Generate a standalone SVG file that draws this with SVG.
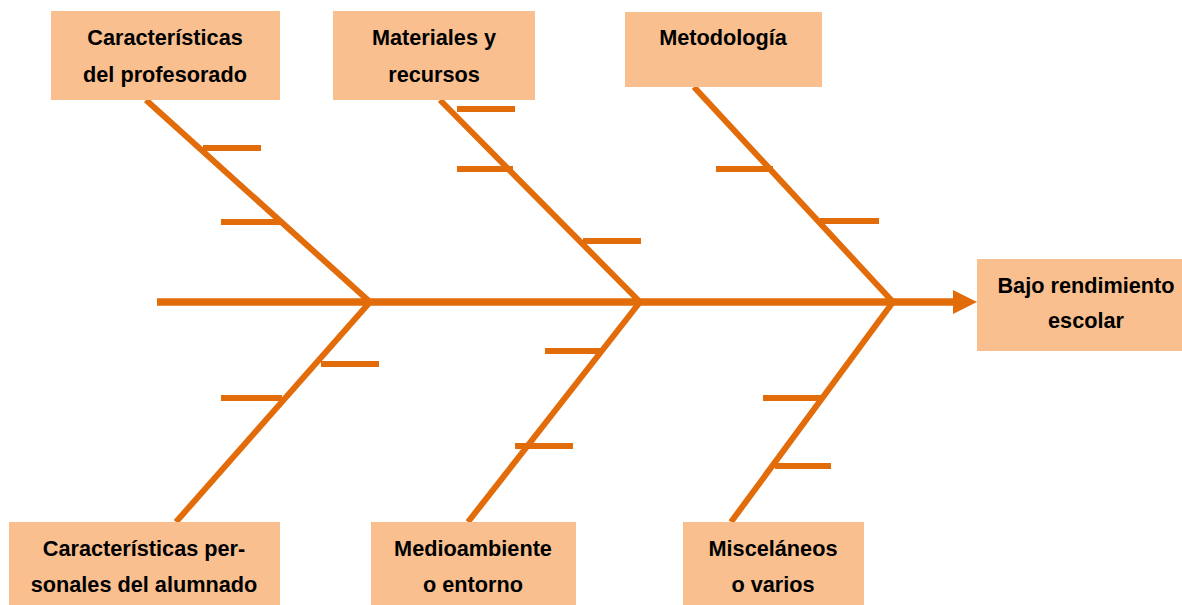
<svg xmlns="http://www.w3.org/2000/svg" width="1182" height="605" viewBox="0 0 1182 605">
<style>
.box{fill:#F9BF8F}
.t{font-family:"Liberation Sans",Arial,sans-serif;font-weight:bold;font-size:21.7px;fill:#000;text-anchor:middle}
.ln{stroke:#E36C0A;stroke-width:6;fill:none;stroke-linecap:butt}
.sp{stroke:#E36C0A;stroke-width:7.5;fill:none}
</style>
<rect width="1182" height="605" fill="#fff"/>
<g id="connectors">
<line class="sp" x1="157" y1="302" x2="956" y2="302"/>
<polygon points="953,290 977,302 953,314" fill="#E36C0A"/>
<line class="ln" x1="146" y1="100" x2="370" y2="302"/>
<line class="ln" x1="203" y1="148" x2="261" y2="148"/>
<line class="ln" x1="221" y1="222" x2="281" y2="222"/>
<line class="ln" x1="440" y1="100" x2="640" y2="302"/>
<line class="ln" x1="457" y1="109" x2="515" y2="109"/>
<line class="ln" x1="457" y1="169" x2="513" y2="169"/>
<line class="ln" x1="583" y1="241" x2="641" y2="241"/>
<line class="ln" x1="694" y1="87" x2="893" y2="302"/>
<line class="ln" x1="716" y1="169" x2="773" y2="169"/>
<line class="ln" x1="820" y1="221" x2="879" y2="221"/>
<line class="ln" x1="370" y1="302" x2="176" y2="522"/>
<line class="ln" x1="321" y1="364" x2="379" y2="364"/>
<line class="ln" x1="221" y1="398" x2="282" y2="398"/>
<line class="ln" x1="640" y1="302" x2="468" y2="522"/>
<line class="ln" x1="545" y1="351" x2="601" y2="351"/>
<line class="ln" x1="515" y1="446" x2="573" y2="446"/>
<line class="ln" x1="893" y1="302" x2="731" y2="522"/>
<line class="ln" x1="763" y1="398" x2="822" y2="398"/>
<line class="ln" x1="775" y1="466" x2="831" y2="466"/>
</g>
<g id="n-profesorado">
<rect class="box" x="51" y="11" width="229" height="89"/>
<text class="t" x="165" y="45">Características</text>
<text class="t" x="165" y="82">del profesorado</text>
</g>
<g id="n-materiales">
<rect class="box" x="333" y="11" width="202" height="89"/>
<text class="t" x="434" y="45">Materiales y</text>
<text class="t" x="434" y="82">recursos</text>
</g>
<g id="n-metodologia">
<rect class="box" x="625" y="12" width="197" height="75"/>
<text class="t" x="723" y="45">Metodología</text>
</g>
<g id="n-efecto">
<rect class="box" x="977" y="259" width="205" height="92"/>
<text class="t" x="1086" y="293">Bajo rendimiento</text>
<text class="t" x="1086" y="328">escolar</text>
</g>
<g id="n-alumnado">
<rect class="box" x="9" y="522" width="271" height="83"/>
<text class="t" x="144" y="556">Características per-</text>
<text class="t" x="144" y="592">sonales del alumnado</text>
</g>
<g id="n-medioambiente">
<rect class="box" x="371" y="522" width="205" height="83"/>
<text class="t" x="473" y="556">Medioambiente</text>
<text class="t" x="473" y="592">o entorno</text>
</g>
<g id="n-miscelaneos">
<rect class="box" x="683" y="522" width="181" height="83"/>
<text class="t" x="773" y="556">Misceláneos</text>
<text class="t" x="773" y="592">o varios</text>
</g>
</svg>
